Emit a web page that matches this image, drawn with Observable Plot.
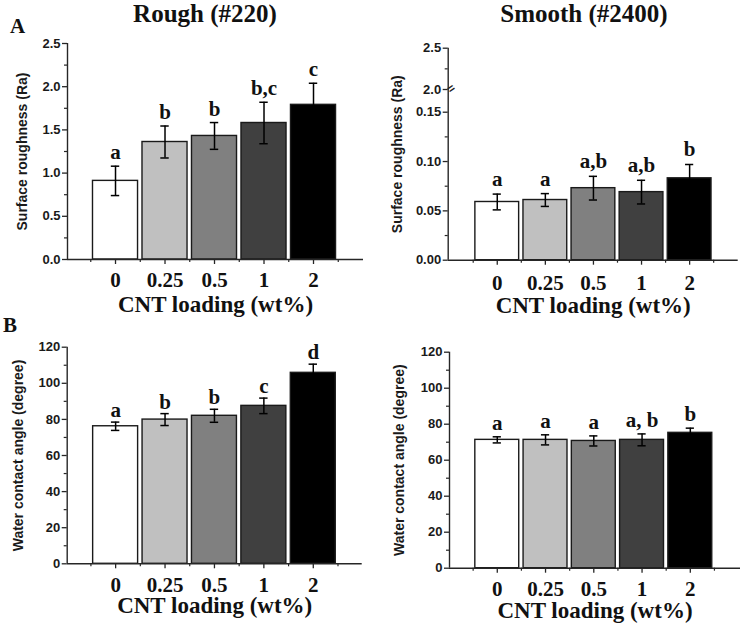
<!DOCTYPE html>
<html><head><meta charset="utf-8">
<script src="https://cdn.jsdelivr.net/npm/d3@7"></script>
<script src="https://cdn.jsdelivr.net/npm/@observablehq/plot@0.6"></script>
<style>
body{margin:0;background:#fff;}
#fig{position:relative;width:745px;height:625px;overflow:hidden;background:#fff;}
.panel{position:absolute;}
.panel svg{background:transparent;overflow:visible;}
.title{position:absolute;z-index:2;font-family:"Liberation Serif","Times New Roman",serif;font-weight:bold;color:#111;white-space:nowrap;}
</style></head><body>
<div id="fig">
  <div class="title" style="font-size:25px;line-height:22px;left:205px;top:3px;transform:translateX(-50%)">Rough (#220)</div>
  <div class="title" style="font-size:25px;line-height:22px;left:584px;top:3px;transform:translateX(-50%)">Smooth (#2400)</div>
  <div class="title" style="font-size:21px;line-height:21px;left:10px;top:16px">A</div>
  <div class="title" style="font-size:21px;line-height:21px;left:3px;top:315px">B</div>
</div>
<script>
// ---- data ----
const loadings = ["0", "0.25", "0.5", "1", "2"];
const barFills = ["#ffffff", "#c0c0c0", "#808080", "#404040", "#000000"];

const roughRa = [0.91, 1.36, 1.43, 1.58, 1.79];
const roughRaErr = [0.17, 0.185, 0.155, 0.24, 0.25];
const roughRaLetters = ["a", "b", "b", "b,c", "c"];

const smoothRa = [0.059, 0.061, 0.073, 0.069, 0.083];
const smoothRaErr = [0.008, 0.0065, 0.012, 0.012, 0.014];
const smoothRaLetters = ["a", "a", "a,b", "a,b", "b"];

const roughWCA = [76.2, 79.9, 82.0, 87.5, 105.8];
const roughWCAErr = [2.3, 3.3, 3.6, 4.3, 4.8];
const roughWCALetters = ["a", "b", "b", "c", "d"];

const smoothWCA = [71.3, 71.3, 70.7, 71.3, 75.2];
const smoothWCAErr = [1.7, 2.8, 2.8, 3.3, 2.6];
const smoothWCALetters = ["a", "a", "a", "a, b", "b"];

const raTicks = [0, 0.5, 1.0, 1.5, 2.0, 2.5];
const raMinor = [0.25, 0.75, 1.25, 1.75, 2.25];
const smoothRaTicks = [0, 0.05, 0.10, 0.15, 2.0, 2.5];
const smoothRaMinor = [0.025, 0.075, 0.125, 2.25];
const smoothRaBreak = [2.0];
const wcaTicks = [0, 20, 40, 60, 80, 100, 120];
const wcaMinor = [10, 30, 50, 70, 90, 110];
const xMinor = [-0.5, 0.5, 1.5, 2.5, 3.5, 4.5];

const xLabel = "CNT loading (wt%)";
const raLabel = "Surface roughness (Ra)";
const wcaLabel = "Water contact angle (degree)";

// ---- drawing ----
const SERIF = "'Liberation Serif','Times New Roman',serif";
const SANS = "'Liberation Sans',Arial,sans-serif";
const AXIS = "#262626";
const HALF = 0.455;   // half bar width (in steps)
const CAP = 0.085;    // half cap width (in steps)

function rows(vals, errs, letters) {
  return loadings.map((l, i) => ({i, loading: l, value: vals[i], err: errs[i], letter: letters[i], fill: barFills[i]}));
}

function panel(o) {
  const data = rows(o.vals, o.errs, o.letters);
  const marks = [
    Plot.rectY(data, {x1: d => d.i - HALF, x2: d => d.i + HALF, y1: 0, y2: "value", fill: "fill", stroke: "#1a1a1a", strokeWidth: 1.4}),
    Plot.ruleX(data, {x: "i", y1: d => d.value - d.err, y2: d => d.value + d.err, stroke: "#000", strokeWidth: 1.5}),
    Plot.ruleY(data, {y: d => d.value + d.err, x1: d => d.i - CAP, x2: d => d.i + CAP, stroke: "#000", strokeWidth: 1.5}),
    Plot.ruleY(data, {y: d => d.value - d.err, x1: d => d.i - CAP, x2: d => d.i + CAP, stroke: "#000", strokeWidth: 1.5}),
    Plot.text(data, {x: "i", y: d => d.value + d.err, text: "letter", dy: o.letterDy, lineAnchor: "bottom",
      fontSize: 21, fontWeight: "bold", fontFamily: SERIF, fill: "#111"}),
    Plot.ruleY([0], {stroke: AXIS, strokeWidth: 1.4}),
    Plot.ruleX([o.xDomain[0]], {stroke: AXIS, strokeWidth: 1.4}),
    Plot.axisY({ticks: o.yTicks, tickFormat: o.yFormat, tickSize: 5, tickPadding: 2, stroke: AXIS, strokeWidth: 1.3,
      fontSize: 13, fontWeight: "bold", fontFamily: SANS, fill: "#1a1a1a", label: null}),
    Plot.axisY({ticks: o.yMinor, tickFormat: () => "", tickSize: 3, stroke: AXIS, strokeWidth: 1.2, label: null}),
    Plot.axisX({ticks: [0, 1, 2, 3, 4], tickFormat: i => loadings[i], tickSize: 5, tickPadding: o.xPad, stroke: AXIS, strokeWidth: 1.3,
      fontSize: 21, fontWeight: "bold", fontFamily: SERIF, fill: "#111", label: null}),
    Plot.axisX({ticks: xMinor, tickFormat: () => "", tickSize: 3, stroke: AXIS, strokeWidth: 1.2, label: null}),
    Plot.text([xLabel], {text: d => d, frameAnchor: "bottom", dy: o.xLabelDy, lineAnchor: "bottom",
      fontSize: 23, fontWeight: "bold", fontFamily: SERIF, fill: "#111"}),
    Plot.text([o.yLabel], {text: d => d, frameAnchor: "left", textAnchor: "middle", rotate: -90, dx: o.yLabelDx,
      fontSize: 14, fontWeight: "bold", fontFamily: SANS, fill: "#1a1a1a"})
  ];
  if (o.extra) marks.push(...o.extra);
  const yScale = {type: "linear", domain: o.yDomain};
  if (o.yRange) yScale.range = o.yRange;
  const svg = Plot.plot({
    width: o.width, height: o.height,
    marginLeft: o.ml, marginRight: o.mr, marginTop: o.mt, marginBottom: o.mb,
    x: {type: "linear", domain: o.xDomain},
    y: yScale,
    color: {type: "identity"},
    style: {background: "transparent", overflow: "visible", color: "#111"},
    marks
  });
  const div = document.createElement("div");
  div.className = "panel";
  div.style.left = o.left + "px";
  div.style.top = o.top + "px";
  div.style.width = o.width + "px";
  div.style.height = o.height + "px";
  div.appendChild(svg);
  document.getElementById("fig").insertBefore(div, document.getElementById("fig").firstChild);
}

// A: rough roughness
panel({left: 0, top: 0, width: 372, height: 318, ml: 67, mr: 9, mt: 43, mb: 59,
  vals: roughRa, errs: roughRaErr, letters: roughRaLetters, letterDy: -7,
  xDomain: [-0.97, 5.01], yDomain: [0, 2.5], yTicks: raTicks, yMinor: raMinor,
  yFormat: d => d.toFixed(1), xPad: 8, xLabelDy: 52, yLabel: raLabel, yLabelDx: -45});

// A: smooth roughness (broken axis)
panel({left: 372, top: 0, width: 373, height: 318, ml: 75.7, mr: 7.3, mt: 47.7, mb: 58.3,
  vals: smoothRa, errs: smoothRaErr, letters: smoothRaLetters, letterDy: -8,
  xDomain: [-1.02, 5.01], yDomain: [0, 0.172, 2.0, 2.5], yRange: [259.7, 90, 89, 47.7],
  yTicks: smoothRaTicks, yMinor: smoothRaMinor,
  yFormat: d => d >= 1 ? d.toFixed(1) : d.toFixed(2), xPad: 10, xLabelDy: 53, yLabel: raLabel, yLabelDx: -51,
  extra: [Plot.text(smoothRaBreak, {y: d => d, text: () => "=", frameAnchor: "left", rotate: -35, dy: 1,
    fontSize: 12, fontWeight: "bold", fontFamily: SANS, fill: "#222"})]});

// B: rough WCA
panel({left: 0, top: 318, width: 372, height: 307, ml: 66.7, mr: 10.3, mt: 28.7, mb: 61.7,
  vals: roughWCA, errs: roughWCAErr, letters: roughWCALetters, letterDy: -5,
  xDomain: [-0.98, 4.99], yDomain: [0, 120], yTicks: wcaTicks, yMinor: wcaMinor,
  yFormat: d => String(d), xPad: 8, xLabelDy: 49, yLabel: wcaLabel, yLabelDx: -49});

// B: smooth WCA
panel({left: 372, top: 318, width: 373, height: 307, ml: 77, mr: 5, mt: 33.7, mb: 57.3,
  vals: smoothWCA, errs: smoothWCAErr, letters: smoothWCALetters, letterDy: -7,
  xDomain: [-0.99, 5.04], yDomain: [0, 120], yTicks: wcaTicks, yMinor: wcaMinor,
  yFormat: d => String(d), xPad: 8, xLabelDy: 50, yLabel: wcaLabel, yLabelDx: -49.5});
</script>
</body></html>
